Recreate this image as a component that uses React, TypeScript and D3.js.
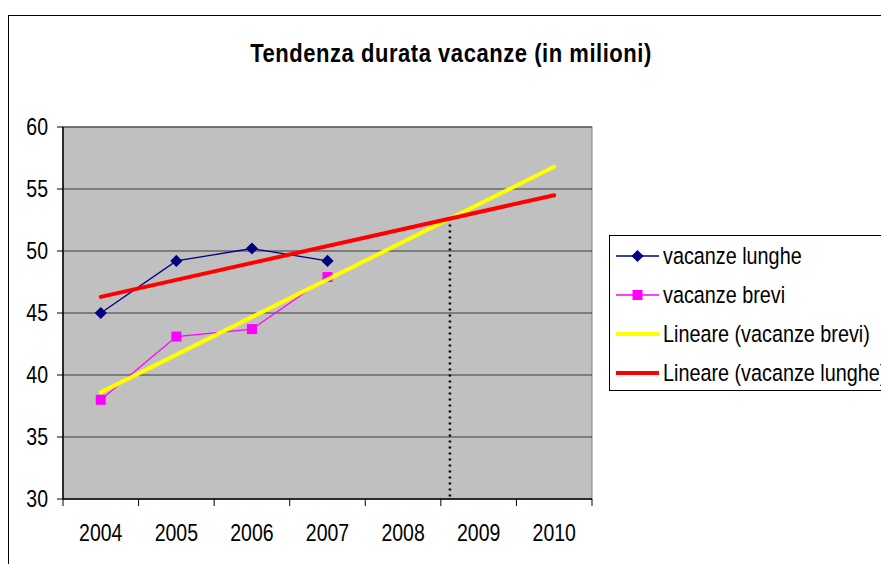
import React from 'react';
import * as d3 from 'd3';

const years = ['2004', '2005', '2006', '2007', '2008', '2009', '2010'];
const lunghe = [45, 49.2, 50.2, 49.2];
const brevi = [38, 43.1, 43.7, 47.9];
// trend lines, at 2004 and 2010
const trendLunghe = [46.3, 54.5];
const trendBrevi = [38.6, 56.8];
const yTicks = [30, 35, 40, 45, 50, 55, 60];
const legendItems = ['vacanze lunghe', 'vacanze brevi', 'Lineare (vacanze brevi)', 'Lineare (vacanze lunghe)'];

const FONT = '"Liberation Sans", Arial, sans-serif';

const App = () => {
  const W = 881;
  const H = 564;
  const plot = { left: 63, top: 127, right: 592, bottom: 499 };

  const xBand = d3.scaleBand<string>().domain(years).range([plot.left, plot.right]).padding(0);
  const bw = xBand.bandwidth();
  const xc = (i: number) => (xBand(years[i]) as number) + bw / 2;
  const xLin = d3.scaleLinear().domain([0, years.length - 1]).range([xc(0), xc(years.length - 1)]);
  const y = d3.scaleLinear().domain([30, 60]).range([plot.bottom, plot.top]);

  const line = d3.line<number>().x((_, i) => xc(i)).y(d => y(d));
  const trendLine = d3.line<number>().x((_, i) => xLin(i * (years.length - 1))).y(d => y(d));

  // intersection of the two trend lines
  const sL = (trendLunghe[1] - trendLunghe[0]) / (years.length - 1);
  const sB = (trendBrevi[1] - trendBrevi[0]) / (years.length - 1);
  const tx = (trendLunghe[0] - trendBrevi[0]) / (sB - sL);
  const ty = trendLunghe[0] + sL * tx;

  const diamond = d3.symbol().type(d3.symbolDiamond2).size(95)();
  const sq = 10;

  const lx = 609;
  const ly = 235;
  const rowY = [256, 295, 334, 373];

  const txt = (x: number, yy: number, s: string, anchor: string, size: number, sy = 1.2) => (
    <text
      transform={`translate(${x},${yy}) scale(1,${sy})`}
      textAnchor={anchor}
      dominantBaseline="central"
      fontSize={size}
      fill="#000"
    >
      {s}
    </text>
  );

  return (
    <svg width={W} height={H} style={{ position: 'absolute', left: 0, top: 0, fontFamily: FONT }}>
      <rect x={0} y={0} width={W} height={H} fill="#fff" />
      <rect x={8.5} y={15.5} width={W + 20} height={H + 20} fill="none" stroke="#000" strokeWidth={1} />

      <text
        transform={`translate(451,53) scale(1,1.15)`}
        textAnchor="middle"
        dominantBaseline="central"
        fontSize={22}
        fontWeight="bold"
        letterSpacing={0.55}
      >
        Tendenza durata vacanze (in milioni)
      </text>

      {/* plot area */}
      <rect x={plot.left} y={plot.top} width={plot.right - plot.left} height={plot.bottom - plot.top} fill="#c0c0c0" stroke="#808080" strokeWidth={1} />

      {yTicks.map(t => (
        <g key={t}>
          {t > 30 && <line x1={plot.left} x2={plot.right} y1={y(t)} y2={y(t)} stroke="#3a3a3a" strokeWidth={1.2} />}
          <line x1={plot.left - 6} x2={plot.left} y1={y(t)} y2={y(t)} stroke="#000" />
          {txt(48, y(t), String(t), 'end', 19.5)}
        </g>
      ))}

      {years.map((yr, i) => (
        <g key={yr}>
          <line x1={xBand(yr) as number} x2={xBand(yr) as number} y1={plot.bottom} y2={plot.bottom + 7} stroke="#000" />
          {txt(xc(i), 533, yr, 'middle', 19.5)}
        </g>
      ))}
      <line x1={plot.right} x2={plot.right} y1={plot.bottom} y2={plot.bottom + 7} stroke="#000" />

      {/* axes */}
      <line x1={plot.left} x2={plot.left} y1={plot.top} y2={plot.bottom} stroke="#000" strokeWidth={1.5} />
      <line x1={plot.left} x2={plot.right} y1={plot.bottom} y2={plot.bottom} stroke="#000" strokeWidth={1.5} />

      {/* dotted vertical at intersection */}
      <line x1={xLin(tx)} x2={xLin(tx)} y1={y(ty)} y2={plot.bottom} stroke="#000" strokeWidth={2.5} strokeDasharray="2,4" />

      {/* data series */}
      <path d={line(lunghe) as string} fill="none" stroke="#000080" strokeWidth={1.3} />
      {lunghe.map((v, i) => (
        <path key={i} d={diamond as string} transform={`translate(${xc(i)},${y(v)})`} fill="#000080" />
      ))}
      <path d={line(brevi) as string} fill="none" stroke="#ff00ff" strokeWidth={1.3} />
      {brevi.map((v, i) => (
        <rect key={i} x={xc(i) - sq / 2} y={y(v) - sq / 2} width={sq} height={sq} fill="#ff00ff" />
      ))}

      {/* trend lines */}
      <path d={trendLine(trendBrevi) as string} fill="none" stroke="#ffff00" strokeWidth={4} strokeLinecap="round" />
      <path d={trendLine(trendLunghe) as string} fill="none" stroke="#ff0000" strokeWidth={4} strokeLinecap="round" />

      {/* legend */}
      <rect x={lx + 0.5} y={ly + 0.5} width={320} height={155} fill="#fff" stroke="#000" strokeWidth={1} />
      {legendItems.map((name, i) => {
        const ry = rowY[i];
        const x1 = 616;
        const x2 = 659;
        const mid = (x1 + x2) / 2;
        return (
          <g key={name}>
            {i === 0 && (
              <>
                <line x1={x1} x2={x2} y1={ry} y2={ry} stroke="#000080" strokeWidth={1.3} />
                <path d={diamond as string} transform={`translate(${mid},${ry})`} fill="#000080" />
              </>
            )}
            {i === 1 && (
              <>
                <line x1={x1} x2={x2} y1={ry} y2={ry} stroke="#ff00ff" strokeWidth={1.3} />
                <rect x={mid - sq / 2} y={ry - sq / 2} width={sq} height={sq} fill="#ff00ff" />
              </>
            )}
            {i === 2 && <line x1={x1} x2={x2} y1={ry} y2={ry} stroke="#ffff00" strokeWidth={4} />}
            {i === 3 && <line x1={x1} x2={x2} y1={ry} y2={ry} stroke="#ff0000" strokeWidth={4} />}
            {txt(663, ry, name, 'start', 19.8)}
          </g>
        );
      })}
    </svg>
  );
};

export default App;
